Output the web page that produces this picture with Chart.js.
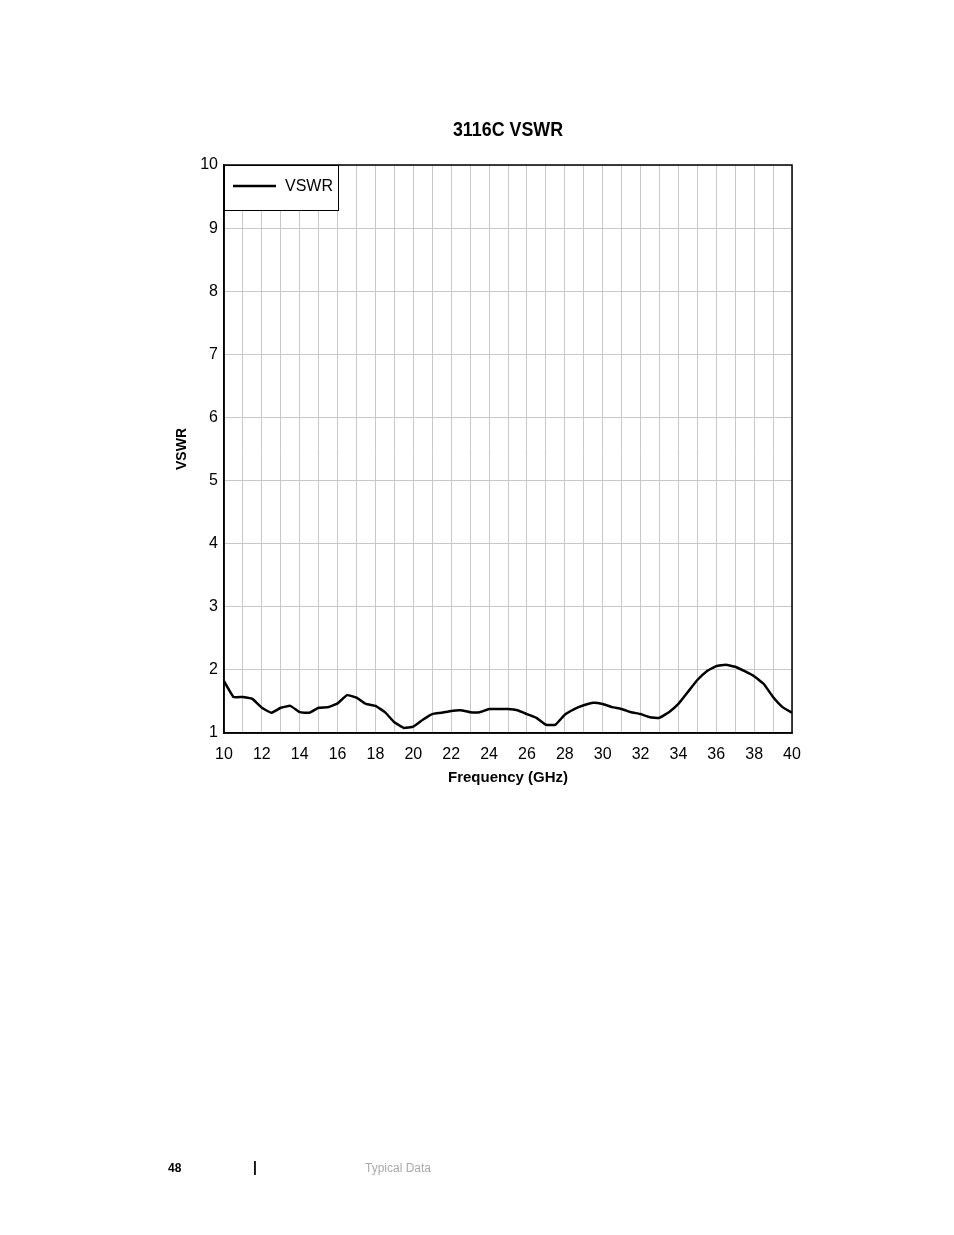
<!DOCTYPE html>
<html><head><meta charset="utf-8">
<script src="https://cdn.jsdelivr.net/npm/chart.js@4/dist/chart.umd.min.js"></script>
<style>
  body { margin:0; background:#fff; font-family:"Liberation Sans", Arial, sans-serif; }
  #wrap { position:relative; width:954px; height:1235px; }
  #title { position:absolute; left:408px; width:200px; top:117px; text-align:center;
           font:bold 21px "Liberation Sans",sans-serif; transform:scaleX(0.85); }
  .foot { position:absolute; top:1161px; font-size:12px; }
</style></head>
<body>
<div id="wrap">
  <canvas id="c" width="954" height="1235"></canvas>
  <div id="title">3116C VSWR</div>
  <div class="foot" style="left:168px;font-weight:bold">48</div>
  <div class="foot" style="left:253px;font-weight:bold;font-size:14px;top:1159px">|</div>
  <div class="foot" style="left:365px;color:#aaa">Typical Data</div>
</div>
<script>
"use strict";

// ── DATA ─────────────────────────────
const freqGHz = [10,10.5,11,11.5,12,12.5,13,13.5,14,14.5,15,15.5,16,16.5,17,17.5,18,18.5,19,19.5,
                 20,20.5,21,21.5,22,22.5,23,23.5,24,24.5,25,25.5,26,26.5,27,27.5,28,28.5,29,29.5,
                 30,30.5,31,31.5,32,32.5,33,33.5,34,34.5,35,35.5,36,36.5,37,37.5,38,38.5,39,39.5,40];
const vswr    = [1.82,1.57,1.57,1.54,1.40,1.32,1.40,1.43,1.33,1.32,1.40,1.41,1.47,1.60,1.56,1.46,1.43,1.33,1.17,1.08,
                 1.10,1.21,1.30,1.32,1.35,1.36,1.33,1.33,1.38,1.38,1.38,1.36,1.30,1.24,1.13,1.13,1.29,1.38,1.44,1.48,
                 1.46,1.41,1.38,1.33,1.30,1.25,1.24,1.33,1.46,1.65,1.84,1.98,2.06,2.08,2.05,1.98,1.90,1.78,1.57,1.41,1.32];
const seriesName = "VSWR";

const tickFont = { family: "'Liberation Sans',sans-serif", size: 16 };

// legend box drawn inside the plot, top-left
const legendBox = {
  id: "legendBox",
  afterDatasetsDraw(chart) {
    const { ctx, chartArea: a } = chart;
    ctx.save();
    ctx.fillStyle = "#fff";
    ctx.fillRect(a.left, a.top, 114, 45);
    ctx.strokeStyle = "#000"; ctx.lineWidth = 1;
    ctx.strokeRect(a.left + 0.5, a.top + 0.5, 114, 45);
    ctx.beginPath(); ctx.lineWidth = 2.5;
    ctx.moveTo(a.left + 9, a.top + 21); ctx.lineTo(a.left + 52, a.top + 21); ctx.stroke();
    ctx.fillStyle = "#000"; ctx.font = "16px 'Liberation Sans',sans-serif";
    ctx.textBaseline = "middle";
    ctx.fillText(seriesName, a.left + 61, a.top + 22);
    ctx.restore();
  }
};

new Chart(document.getElementById("c"), {
  type: "line",
  data: {
    datasets: [{
      label: seriesName,
      data: freqGHz.map((f, i) => ({ x: f, y: vswr[i] })),
      borderColor: "#000", borderWidth: 2.5, pointRadius: 0, tension: 0.1, fill: false
    }]
  },
  options: {
    responsive: false, animation: false,
    layout: { padding: { left: 160, right: 162, top: 165, bottom: 442 } },
    plugins: { legend: { display: false }, tooltip: { enabled: false } },
    scales: {
      x: {
        type: "linear", min: 10, max: 40,
        afterFit: s => { s.height = 60; },
        ticks: { stepSize: 1, autoSkip: false, maxRotation: 0, padding: 12, color: "#000", font: tickFont,
                 callback: v => (v % 2 === 0 ? v : "") },
        grid: { color: "#c8c8c8", drawTicks: false },
        border: { color: "#000", width: 1.5 },
        title: { display: true, text: "Frequency (GHz)", color: "#000",
                 font: { family: "'Liberation Sans',sans-serif", size: 15, weight: "bold" }, padding: { top: 0, bottom: 6 } }
      },
      y: {
        min: 1, max: 10,
        afterFit: s => { s.width = 64; },
        ticks: { stepSize: 1, padding: 6, color: "#000", font: tickFont },
        grid: { color: "#c8c8c8", drawTicks: false },
        border: { color: "#000", width: 1.5 },
        title: { display: true, text: "VSWR", color: "#000",
                 font: { family: "'Liberation Sans',sans-serif", size: 14, weight: "bold" }, padding: { top: 14, bottom: 0 } }
      }
    }
  },
  plugins: [legendBox, {
    id: "frame",
    afterDraw(chart) {
      const { ctx, chartArea: a } = chart;
      ctx.save(); ctx.strokeStyle = "#000"; ctx.lineWidth = 1.5;
      ctx.strokeRect(a.left, a.top, a.right - a.left, a.bottom - a.top);
      ctx.restore();
    }
  }]
});
</script>
</body></html>
